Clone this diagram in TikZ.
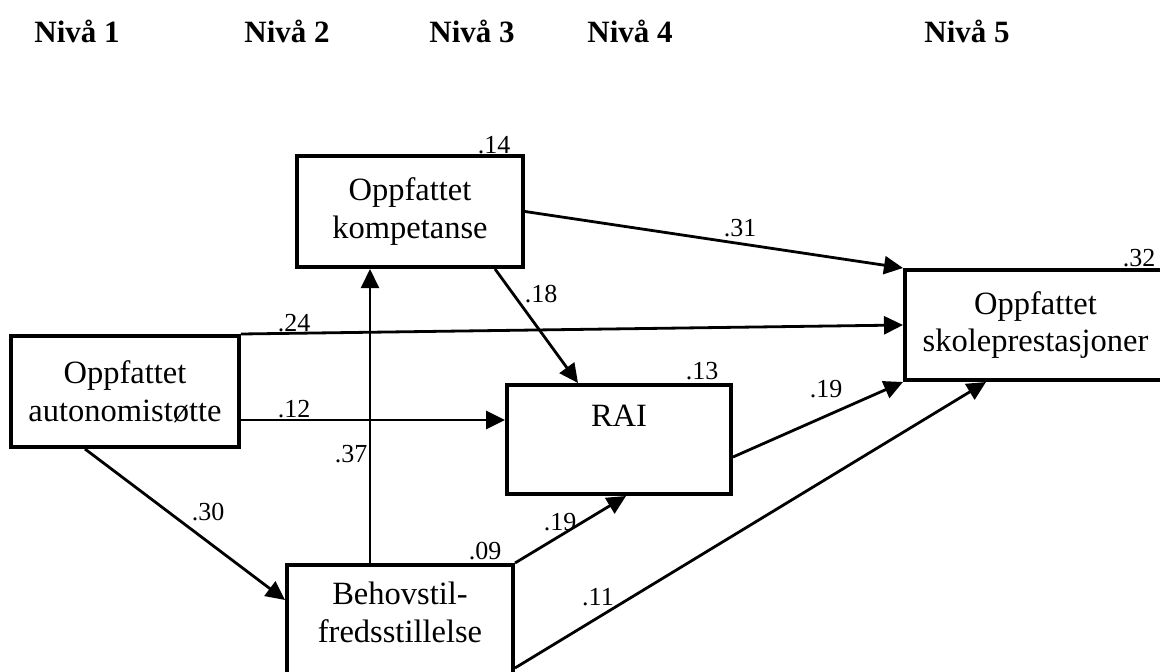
\documentclass[tikz,border=0pt]{standalone}
\usepackage{fontspec}
\setmainfont{Liberation Serif}
\usetikzlibrary{arrows.meta,calc}
\tikzset{
  box/.style={draw, line width=4pt, align=center, inner sep=0pt,
    font=\fontsize{32.5}{37.5}\selectfont},
  conn/.style={line width=2.8pt, -{Triangle[length=19pt,width=18pt]}},
  thinconn/.style={conn, line width=2pt},
  coef/.style={font=\fontsize{26}{30}\selectfont, inner sep=0pt, anchor=center},
  hdr/.style={font=\bfseries\fontsize{31}{36}\selectfont, anchor=base, inner sep=0pt}
}
\begin{document}
\begin{tikzpicture}[x=1pt,y=-1pt]
\useasboundingbox (0,0) rectangle (1160,672);
\clip (0,0) rectangle (1160,672);
\fill[white] (0,0) rectangle (1160,672);

% headers
\node[hdr] (h1) at (77,42) {Nivå 1};
\node[hdr] (h2) at (287,42) {Nivå 2};
\node[hdr] (h3) at (472,42) {Nivå 3};
\node[hdr] (h4) at (630,42) {Nivå 4};
\node[hdr] (h5) at (967,42) {Nivå 5};

% boxes
\node[box, minimum width=226pt, minimum height=111pt] (komp) at (410,211.5) {Oppfattet\\kompetanse};
\node[box, minimum width=228pt, minimum height=111pt] (auto) at (125,391.5) {Oppfattet\\autonomistøtte};
\node[box, minimum width=224pt, minimum height=109pt] (rai) at (619,439.5) {RAI\\[9pt]\phantom{A}};
\node[box, minimum width=261pt, minimum height=110pt] (skole) at (1035.5,325) {Oppfattet\\skoleprestasjoner};
\node[box, minimum width=226pt, minimum height=132pt] (behov) at (400,631) {Behovstil-\\fredsstillelse\\\phantom{A}};

% connector end points
\coordinate (b37) at ([xshift=85pt]behov.north west);
\coordinate (a30) at ([xshift=76pt]auto.south west);
\coordinate (a12) at ([yshift=-28.5pt]auto.east);

% connectors
\draw[thinconn] (b37) -- (b37 |- komp.south);
\draw[conn] (a30) -- ([yshift=-37pt]behov.north west);
\draw[conn] (auto.north east) -- (skole.west);
\draw[conn] (a12) -- (a12 -| rai.west);
\draw[conn] ([xshift=200pt]komp.south west) -- ([xshift=73pt]rai.north west);
\draw[conn] (komp.east) -- (skole.north west);
\draw[conn] ([yshift=-17.5pt]rai.east) -- (skole.south west);
\draw[conn] (behov.north east) -- ([xshift=121pt]rai.south west);
\draw[conn] ([yshift=-105pt]behov.north east) -- ([xshift=83pt]skole.south west);

% coefficients
\node[coef] (c14) at (494,145) {.14};
\node[coef] (c13) at (702,371) {.13};
\node[coef] (c32) at (1139,258) {.32};
\node[coef] (c09) at (485,551) {.09};
\node[coef] (c24) at (294,323) {.24};
\node[coef] (c12) at (294,409) {.12};
\node[coef] (c37) at (351,454) {.37};
\node[coef] (c30) at (208,512) {.30};
\node[coef] (c18) at (541,294) {.18};
\node[coef] (c31) at (740,228) {.31};
\node[coef] (c19a) at (826,389) {.19};
\node[coef] (c19b) at (560,522) {.19};
\node[coef] (c11) at (598,597) {.11};
\end{tikzpicture}
\end{document}
